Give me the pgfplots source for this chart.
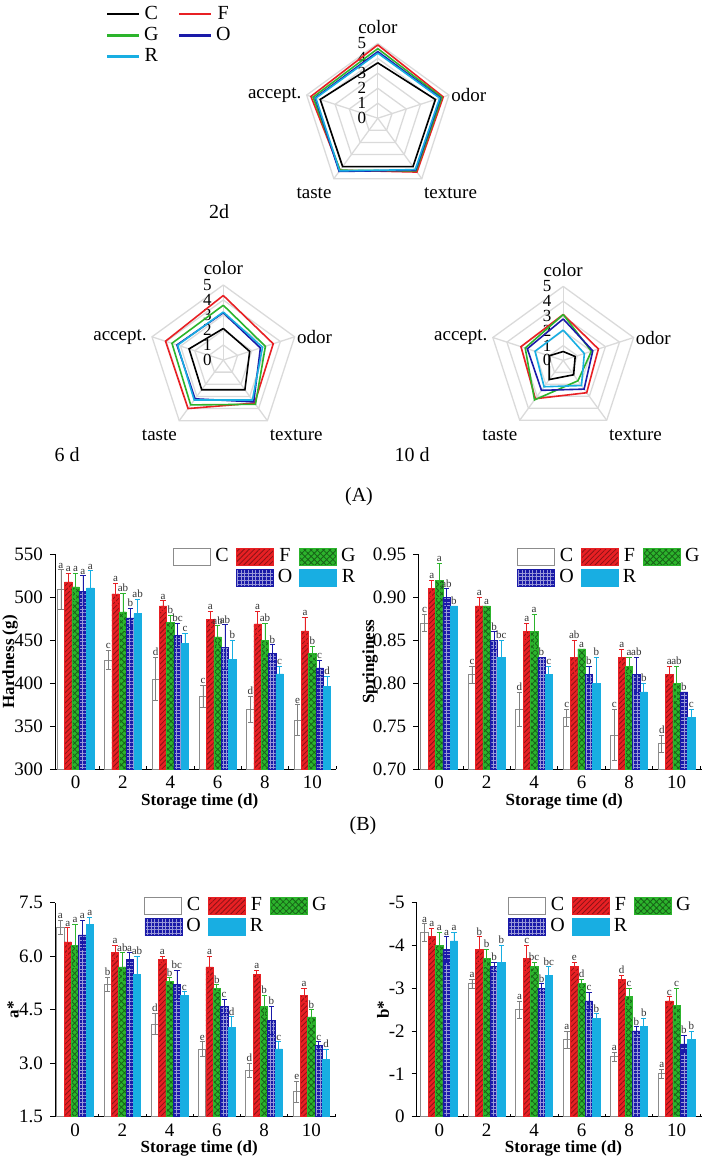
\documentclass[border=0pt]{standalone}
\usepackage{fontspec}
\setmainfont{Liberation Serif}
\usepackage{pgfplots}
\usepackage{pgfplotstable}
\pgfplotsset{compat=1.18}
\usetikzlibrary{patterns.meta}

\definecolor{cF}{RGB}{232,32,36}
\definecolor{cG}{RGB}{44,180,44}
\definecolor{cO}{RGB}{26,26,168}
\definecolor{cR}{RGB}{24,174,226}
\definecolor{web}{RGB}{218,218,218}

\pgfplotsset{
  radar/.style={anchor=center, scale only axis,
    xmin=-5, xmax=5, ymin=-5, ymax=5, hide axis, clip=false},
  webline/.style={web, line width=0.65pt, forget plot, data cs=polar},
  ser/.style={#1, line width=0.8pt, data cs=polar},
  lineleg/.style={legend image code/.code={\draw[##1, line width=1.1pt] (0pt,0pt) -- (16pt,0pt);}},
  errc/.style={error bars/y dir=both, error bars/y explicit,
    error bars/error bar style={#1, line width=0.4pt},
    error bars/error mark options={rotate=90, #1, mark size=1.3pt, line width=0.4pt}},
  barleg/.style={legend image code/.code={\draw[##1] (0pt,-4.25pt) rectangle (18.5pt,4.25pt);}},
  bC/.style={fill=white, draw=black!45, line width=0.4pt, errc=black!50, barleg},
  bF/.style={fill=cF, draw=cF, line width=0.3pt,
    postaction={pattern={Lines[angle=45,distance=1.8pt,line width=0.4pt]}, pattern color=cF!60!black},
    errc=cF, barleg},
  bG/.style={fill=cG, draw=cG, line width=0.3pt,
    postaction={pattern={Hatch[angle=45,distance=2.2pt,line width=0.4pt]}, pattern color=cG!55!black},
    errc=cG, barleg},
  bO/.style={fill=cO, draw=cO, line width=0.3pt,
    postaction={pattern={Hatch[angle=0,distance=1.8pt,line width=0.35pt]}, pattern color=white!55!cO},
    errc=cO, barleg},
  bR/.style={fill=cR, draw=cR, line width=0.3pt, errc=cR, barleg},
  lbl/.style={visualization depends on={\thisrow{#1}\as\myerr},
    nodes near coords, point meta=explicit symbolic, nodes near coords align={anchor=south},
    every node near coord/.append style={font=\fontsize{5.5}{6}\selectfont, text=black!80,
      inner sep=0.6pt, shift={(axis direction cs:0,\myerr)}}},
  lblr/.style={visualization depends on={\thisrow{#1}\as\myerr},
    nodes near coords, point meta=explicit symbolic, nodes near coords align={anchor=south},
    every node near coord/.append style={font=\fontsize{5.5}{6}\selectfont, text=black!80,
      inner sep=0.6pt, shift={(axis direction cs:0,-\myerr)}}},
  barax/.style={scale only axis, anchor=south west, axis lines=left, axis line style={-},
    ybar=0pt, bar width=0.31,
    xtick={0,2,...,10}, minor xtick={1,3,...,11},
    tick align=outside, major tick length=2.5pt, minor tick length=1.5pt,
    every major x tick/.append style={draw=none},
    every minor x tick/.append style={yshift=1.5pt},
    tick style={black, line width=0.4pt},
    tick label style={font=\fontsize{9.5}{11}\selectfont},
    xticklabel style={yshift=2.6pt},
    /pgf/number format/assume math mode=true,
    legend columns=3,
    legend style={anchor=north west, draw=none, fill=none, inner sep=0pt,
      font=\fontsize{10}{12}\selectfont, nodes={inner sep=0.6pt}, row sep=1.2pt,
      /tikz/every odd column/.append style={column sep=1.5pt},
      /tikz/every even column/.append style={column sep=3pt}},
    every axis x label/.style={at={(axis description cs:0.515,-0.15)}, anchor=center,
      font=\bfseries\fontsize{8.5}{10}\selectfont},
    xlabel={Storage time (d)},
    every axis y label/.style={at={(axis description cs:#1,0.5)}, rotate=90, anchor=center,
      font=\bfseries\fontsize{8.5}{10}\selectfont}},
}

% sensory scores: angles 90 color, 18 odor, -54 texture, -126 taste, 162 accept.
\newcommand\radarframe{%
  \pgfplotsinvokeforeach{1,...,5}{%
    \addplot[webline] coordinates {(90,##1)(18,##1)(-54,##1)(-126,##1)(162,##1)(90,##1)};}
  \pgfplotsinvokeforeach{90,18,-54,-126,162}{%
    \addplot[webline] coordinates {(##1,0)(##1,5)};}
  \pgfplotsinvokeforeach{0,...,5}{%
    \node[font=\fontsize{8.5}{9}\selectfont, inner sep=0pt, xshift=-8pt] at (axis cs:0,##1) {##1};}
  \node[anchor=south, yshift=1.5pt, font=\fontsize{9.5}{11}\selectfont] at (axis cs:0,5) {color};
  \node[anchor=west, inner sep=1pt, font=\fontsize{9.5}{11}\selectfont] at (axis cs:4.755,1.545) {odor};
  \node[anchor=north west, inner sep=1pt, yshift=-3.5pt, font=\fontsize{9.5}{11}\selectfont] at (axis cs:2.939,-4.045) {texture};
  \node[anchor=north east, inner sep=1pt, yshift=-3.5pt, font=\fontsize{9.5}{11}\selectfont] at (axis cs:-2.939,-4.045) {taste};
  \node[anchor=east, inner sep=1pt, xshift=-1.5pt, font=\fontsize{9.5}{11}\selectfont] at (axis cs:-4.755,1.545) {accept.};
}

\pgfplotstableread{
x C Ce Cl F Fe Fl G Ge Gl O Oe Ol R Re Rl
0 509 23 a 518 10 a 512 16 a 507 18 a 511 20 a
2 427 11 c 504 12 a 483 22 ab 476 11 b 481 17 ab
4 405 25 d 490 6 a 471 8 b 456 14 bc 446 12 c
6 385 13 c 474 10 a 454 13 ab 442 26 ab 428 22 b
8 370 15 d 469 15 a 450 20 ab 435 10 b 411 9 c
10 357 18 e 461 16 a 435 8 b 418 9 c 396 12 d
}\hard

\pgfplotstableread{
x C Ce Cl F Fe Fl G Ge Gl O Oe Ol R Re Rl
0 0.87 0.01 c 0.91 0.01 a 0.92 0.02 a 0.90 0.01 ab 0.89 0.00 b
2 0.81 0.01 c 0.89 0.01 a 0.89 0.00 a 0.85 0.01 b 0.83 0.02 bc
4 0.77 0.02 d 0.86 0.01 a 0.86 0.02 a 0.83 0.00 b 0.81 0.01 c
6 0.76 0.01 c 0.83 0.02 ab 0.84 0.00 a 0.81 0.01 b 0.80 0.03 b
8 0.74 0.03 c 0.83 0.01 a 0.82 0.01 a 0.81 0.02 ab 0.79 0.01 b
10 0.73 0.01 d 0.81 0.01 a 0.80 0.02 ab 0.79 0.00 b 0.76 0.01 c
}\spring

\pgfplotstableread{
x C Ce Cl F Fe Fl G Ge Gl O Oe Ol R Re Rl
0 6.8 0.2 a 6.4 0.4 a 6.3 0.6 a 6.6 0.4 a 6.9 0.2 a
2 5.2 0.2 b 6.1 0.2 a 5.7 0.4 ab 5.9 0.2 a 5.5 0.5 ab
4 4.1 0.3 d 5.9 0.1 a 5.3 0.1 b 5.2 0.4 bc 4.9 0.1 c
6 3.4 0.2 e 5.7 0.3 a 5.1 0.1 b 4.6 0.2 c 4.0 0.3 d
8 2.8 0.2 d 5.5 0.1 a 4.6 0.3 b 4.2 0.4 b 3.4 0.2 c
10 2.2 0.3 e 4.9 0.2 a 4.3 0.2 b 3.5 0.1 c 3.1 0.3 d
}\astar

\pgfplotstableread{
x C Ce Cl F Fe Fl G Ge Gl O Oe Ol R Re Rl
0 -4.3 0.2 a -4.2 0.2 a -4.0 0.3 a -3.9 0.3 a -4.1 0.2 a
2 -3.1 0.1 a -3.9 0.3 b -3.7 0.2 b -3.5 0.1 b -3.6 0.4 b
4 -2.5 0.2 a -3.7 0.3 c -3.5 0.1 bc -3.0 0.1 b -3.3 0.2 bc
6 -1.8 0.2 a -3.5 0.1 e -3.1 0.1 d -2.7 0.2 c -2.3 0.1 b
8 -1.4 0.1 a -3.2 0.1 d -2.8 0.2 c -2.0 0.1 b -2.1 0.2 b
10 -1.0 0.1 a -2.7 0.1 c -2.6 0.4 c -1.7 0.2 b -1.8 0.2 b
}\bstar

\begin{document}
\begin{tikzpicture}
\useasboundingbox (0,0) rectangle (362pt,-580pt);

% ---------- 2 d ----------
\begin{axis}[radar, at={(188.9pt,-59.1pt)}, width=74.8pt, height=74.8pt, lineleg,
  legend columns=2,
  legend style={at={(-1.317,1.263)}, anchor=north west, draw=none, fill=none, inner sep=0pt,
    font=\fontsize{10}{12}\selectfont, nodes={inner sep=0.8pt}, row sep=0.9pt,
    /tikz/every odd column/.append style={column sep=1pt},
    /tikz/every even column/.append style={column sep=9pt}}]
\radarframe
\addplot[ser=black] coordinates {(90,3.7)(18,4.05)(-54,4.0)(-126,4.0)(162,4.05)(90,3.7)};
\addlegendentry{C}
\addplot[ser=cF] coordinates {(90,4.9)(18,4.6)(-54,4.45)(-126,4.3)(162,4.7)(90,4.9)};
\addlegendentry{F}
\addplot[ser=cG] coordinates {(90,4.65)(18,4.5)(-54,4.35)(-126,4.3)(162,4.55)(90,4.65)};
\addlegendentry{G}
\addplot[ser=cO] coordinates {(90,4.45)(18,4.4)(-54,4.3)(-126,4.4)(162,4.4)(90,4.45)};
\addlegendentry{O}
\addplot[ser=cR] coordinates {(90,4.35)(18,4.35)(-54,4.25)(-126,4.35)(162,4.35)(90,4.35)};
\addlegendentry{R}
\end{axis}

% ---------- 6 d ----------
\begin{axis}[radar, at={(111.65pt,-180pt)}, width=75pt, height=75pt]
\radarframe
\addplot[ser=black] coordinates {(90,2.1)(18,1.85)(-54,2.45)(-126,2.45)(162,2.4)(90,2.1)};
\addplot[ser=cF] coordinates {(90,4.3)(18,3.5)(-54,3.55)(-126,4.0)(162,4.05)(90,4.3)};
\addplot[ser=cG] coordinates {(90,3.65)(18,2.95)(-54,3.65)(-126,3.7)(162,3.6)(90,3.65)};
\addplot[ser=cO] coordinates {(90,3.15)(18,2.6)(-54,3.45)(-126,3.2)(162,3.25)(90,3.15)};
\addplot[ser=cR] coordinates {(90,3.2)(18,2.75)(-54,3.3)(-126,3.3)(162,3.2)(90,3.2)};
\end{axis}

% ---------- 10 d ----------
\begin{axis}[radar, at={(281.6pt,-180.2pt)}, width=74pt, height=74pt]
\radarframe
\addplot[ser=black] coordinates {(90,0.6)(18,0.85)(-54,1.2)(-126,1.6)(162,1.0)(90,0.6)};
\addplot[ser=cF] coordinates {(90,3.1)(18,2.5)(-54,2.7)(-126,3.2)(162,3.0)(90,3.1)};
\addplot[ser=cG] coordinates {(90,3.1)(18,2.0)(-54,1.7)(-126,3.3)(162,2.7)(90,3.1)};
\addplot[ser=cO] coordinates {(90,2.8)(18,2.1)(-54,2.4)(-126,2.5)(162,2.55)(90,2.8)};
\addplot[ser=cR] coordinates {(90,2.05)(18,1.5)(-54,2.1)(-126,2.2)(162,2.0)(90,2.05)};
\end{axis}

\node[font=\fontsize{10}{12}\selectfont] at (109.5pt,-106pt) {2d};
\node[font=\fontsize{10}{12}\selectfont] at (33.5pt,-227.5pt) {6 d};
\node[font=\fontsize{10}{12}\selectfont] at (206pt,-227.5pt) {10 d};
\node[font=\fontsize{10}{12}\selectfont] at (179.5pt,-248.5pt) {(A)};
\node[font=\fontsize{10}{12}\selectfont] at (181.5pt,-413pt) {(B)};

% ---------- Hardness ----------
\begin{axis}[barax=-0.16, at={(27.5pt,-384.65pt)}, width=140.5pt, height=107.5pt,
  xmin=-0.87, xmax=11, ymin=300, ymax=550, ytick={300,350,...,550},
  ylabel={Hardness (g)}, legend style={at={(0.42,1.034)}}]
\addplot[bC, lbl=Ce] table[x=x, y=C, y error=Ce, meta=Cl] {\hard}; \addlegendentry{C}
\addplot[bF, lbl=Fe] table[x=x, y=F, y error=Fe, meta=Fl] {\hard}; \addlegendentry{F}
\addplot[bG, lbl=Ge] table[x=x, y=G, y error=Ge, meta=Gl] {\hard}; \addlegendentry{G}
\addlegendimage{empty legend}\addlegendentry{}
\addplot[bO, lbl=Oe] table[x=x, y=O, y error=Oe, meta=Ol] {\hard}; \addlegendentry{O}
\addplot[bR, lbl=Re] table[x=x, y=R, y error=Re, meta=Rl] {\hard}; \addlegendentry{R}
\end{axis}

% ---------- Springiness ----------
\begin{axis}[barax=-0.17, at={(209.15pt,-384.65pt)}, width=141.7pt, height=107.5pt,
  xmin=-0.88, xmax=11.06, ymin=0.70, ymax=0.95, ytick={0.70,0.75,...,0.95},
  y tick label style={/pgf/number format/fixed, /pgf/number format/fixed zerofill, /pgf/number format/precision=2},
  ylabel={Springiness}, legend style={at={(0.348,1.034)}}]
\addplot[bC, lbl=Ce] table[x=x, y=C, y error=Ce, meta=Cl] {\spring}; \addlegendentry{C}
\addplot[bF, lbl=Fe] table[x=x, y=F, y error=Fe, meta=Fl] {\spring}; \addlegendentry{F}
\addplot[bG, lbl=Ge] table[x=x, y=G, y error=Ge, meta=Gl] {\spring}; \addlegendentry{G}
\addplot[bO, lbl=Oe] table[x=x, y=O, y error=Oe, meta=Ol] {\spring}; \addlegendentry{O}
\addplot[bR, lbl=Re] table[x=x, y=R, y error=Re, meta=Rl] {\spring}; \addlegendentry{R}
\end{axis}

% ---------- a* ----------
\begin{axis}[barax=-0.15, at={(27.5pt,-558.35pt)}, width=140pt, height=107pt,
  xmin=-0.85, xmax=11, ymin=1.5, ymax=7.5, ytick={1.5,3.0,...,7.5},
  y tick label style={/pgf/number format/fixed, /pgf/number format/fixed zerofill, /pgf/number format/precision=1},
  ylabel={a*}, legend style={at={(0.318,1.031)}}]
\addplot[bC, lbl=Ce] table[x=x, y=C, y error=Ce, meta=Cl] {\astar}; \addlegendentry{C}
\addplot[bF, lbl=Fe] table[x=x, y=F, y error=Fe, meta=Fl] {\astar}; \addlegendentry{F}
\addplot[bG, lbl=Ge] table[x=x, y=G, y error=Ge, meta=Gl] {\astar}; \addlegendentry{G}
\addplot[bO, lbl=Oe] table[x=x, y=O, y error=Oe, meta=Ol] {\astar}; \addlegendentry{O}
\addplot[bR, lbl=Re] table[x=x, y=R, y error=Re, meta=Rl] {\astar}; \addlegendentry{R}
\end{axis}

% ---------- b* ----------
\begin{axis}[barax=-0.118, at={(208.35pt,-558.35pt)}, width=142.5pt, height=107.2pt,
  xmin=-0.95, xmax=11.06, ymin=-5, ymax=0, ytick={-5,-4,...,0}, y dir=reverse,
  ylabel={b*}, legend style={at={(0.32,1.03)}}]
\addplot[bC, lblr=Ce] table[x=x, y=C, y error=Ce, meta=Cl] {\bstar}; \addlegendentry{C}
\addplot[bF, lblr=Fe] table[x=x, y=F, y error=Fe, meta=Fl] {\bstar}; \addlegendentry{F}
\addplot[bG, lblr=Ge] table[x=x, y=G, y error=Ge, meta=Gl] {\bstar}; \addlegendentry{G}
\addplot[bO, lblr=Oe] table[x=x, y=O, y error=Oe, meta=Ol] {\bstar}; \addlegendentry{O}
\addplot[bR, lblr=Re] table[x=x, y=R, y error=Re, meta=Rl] {\bstar}; \addlegendentry{R}
\end{axis}
\end{tikzpicture}
\end{document}
